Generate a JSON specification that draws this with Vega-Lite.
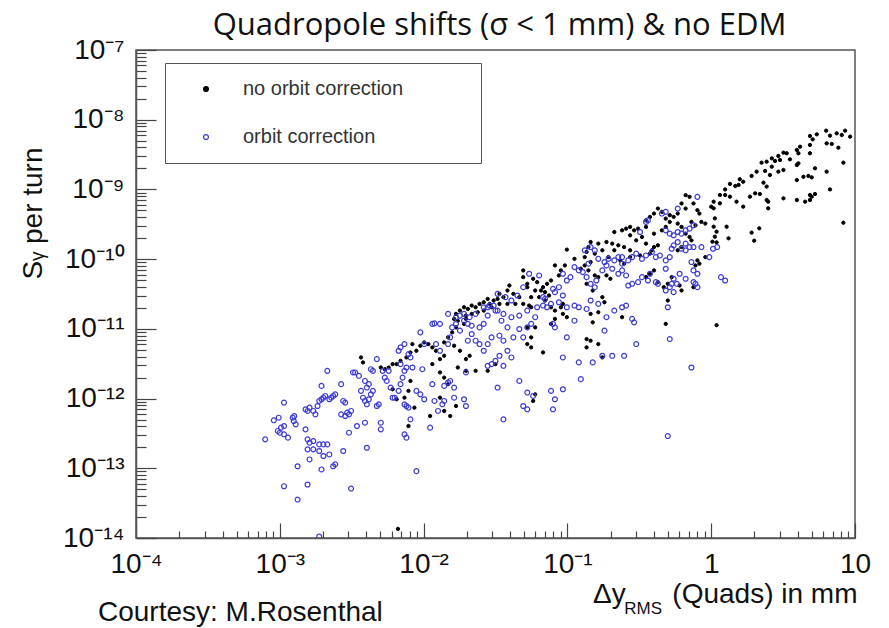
{
"$schema": "https://vega.github.io/schema/vega-lite/v6.json",
"width": 719, "height": 488,
"autosize": "none",
"padding": {"left": 136, "top": 50, "right": 34, "bottom": 90},
"background": "white",
"title": {"text": "Quadropole shifts (σ < 1 mm) & no EDM", "font": "Open Sans", "fontSize": 31, "fontWeight": "normal", "color": "#111", "anchor": "middle", "frame": "group", "offset": -6, "dx": 4},
"datasets": {
"noCorrection": [
{"x":4.86,"y":5.84e-9},{"x":5.08,"y":5.23e-9},{"x":5.42,"y":6.17e-9},{"x":6.3,"y":6.97e-9},{"x":6.7,"y":5.91e-9},{"x":7.46,"y":6.38e-9},{"x":8.09,"y":6.04e-9},{"x":8.53,"y":6.97e-9},{"x":9.25,"y":5.72e-9},{"x":6.89,"y":4.49e-9},{"x":6.35,"y":4.58e-9},{"x":7.66,"y":3.97e-9},{"x":4.86,"y":4.34e-9},{"x":4.15,"y":4.1e-9},{"x":3.94,"y":3.68e-9},{"x":4.04,"y":3.3e-9},{"x":3.35,"y":3.3e-9},{"x":3.18,"y":3.37e-9},{"x":2.93,"y":3.02e-9},{"x":2.64,"y":2.79e-9},{"x":2.43,"y":2.5e-9},{"x":2.24,"y":2.42e-9},{"x":2.78,"y":2.56e-9},{"x":3.01,"y":2.64e-9},{"x":3.53,"y":2.7e-9},{"x":4.04,"y":2.37e-9},{"x":3.94,"y":2.24e-9},{"x":8.3,"y":2.42e-9},{"x":4.86,"y":3.3e-9},{"x":5.27,"y":2.01e-9},{"x":6.35,"y":1.8e-9},{"x":4.74,"y":1.56e-9},{"x":5.0,"y":1.49e-9},{"x":4.38,"y":1.52e-9},{"x":3.94,"y":1.36e-9},{"x":3.18,"y":1.9e-9},{"x":2.93,"y":1.8e-9},{"x":2.64,"y":2.12e-9},{"x":2.37,"y":1.84e-9},{"x":2.07,"y":1.8e-9},{"x":1.91,"y":1.56e-9},{"x":2.56,"y":1.61e-9},{"x":2.31,"y":1.25e-9},{"x":2.43,"y":1.1e-9},{"x":1.67,"y":1.29e-9},{"x":1.58,"y":1.4e-9},{"x":1.55,"y":1.16e-9},{"x":1.47,"y":1.12e-9},{"x":1.35,"y":1.2e-9},{"x":1.25,"y":1.0e-9},{"x":1.15,"y":8.31e-10},{"x":1.25,"y":8.31e-10},{"x":1.35,"y":7.87e-10},{"x":1.5,"y":6.67e-10},{"x":1.67,"y":5.66e-10},{"x":1.86,"y":7.87e-10},{"x":2.02,"y":8.79e-10},{"x":2.18,"y":8.59e-10},{"x":2.43,"y":7.05e-10},{"x":2.49,"y":6.67e-10},{"x":2.49,"y":5.36e-10},{"x":3.18,"y":7.45e-10},{"x":3.94,"y":7.05e-10},{"x":4.5,"y":6.67e-10},{"x":4.86,"y":8.31e-10},{"x":5.0,"y":7.87e-10},{"x":5.27,"y":8.59e-10},{"x":4.86,"y":7.05e-10},{"x":6.7,"y":1.0e-9},{"x":1.04,"y":6.67e-10},{"x":1.04,"y":5.36e-10},{"x":1.15,"y":6.32e-10},{"x":1.0,"y":5.66e-10},{"x":8.3,"y":3.33e-10},{"x":1.91,"y":2.4e-10},{"x":2.16,"y":2.77e-10},{"x":1.99,"y":1.84e-10},{"x":1.32,"y":1.99e-10},{"x":1.28,"y":2.92e-10},{"x":1.06,"y":3.85e-10},{"x":1.04,"y":2.92e-10},{"x":1.09,"y":2.48e-10},{"x":1.06,"y":2.1e-10},{"x":1.02,"y":1.78e-10},{"x":1.09,"y":1.74e-10},{"x":1.09,"y":1.13e-11},
{"x":0.664,"y":8.28e-10},{"x":0.707,"y":7.83e-10},{"x":0.622,"y":6.29e-10},{"x":0.664,"y":5.32e-10},{"x":0.753,"y":6.29e-10},{"x":0.802,"y":5.04e-10},{"x":0.828,"y":4.51e-10},{"x":0.585,"y":4.51e-10},{"x":0.548,"y":4.04e-10},{"x":0.515,"y":4.27e-10},{"x":0.483,"y":3.82e-10},{"x":0.454,"y":4.77e-10},{"x":0.426,"y":5.32e-10},{"x":0.4,"y":4.51e-10},{"x":0.375,"y":4.04e-10},{"x":0.352,"y":3.61e-10},{"x":0.515,"y":3.42e-10},{"x":0.585,"y":3.24e-10},{"x":0.622,"y":2.9e-10},{"x":0.729,"y":3.42e-10},{"x":0.777,"y":3.06e-10},{"x":0.855,"y":3.42e-10},{"x":0.91,"y":3.24e-10},{"x":0.664,"y":2.32e-10},{"x":0.707,"y":2.08e-10},{"x":0.729,"y":1.86e-10},{"x":0.622,"y":1.49e-10},{"x":0.585,"y":1.34e-10},{"x":0.483,"y":2.9e-10},{"x":0.454,"y":2.59e-10},{"x":0.4,"y":2.32e-10},{"x":0.352,"y":2.9e-10},{"x":0.31,"y":2.74e-10},{"x":0.291,"y":2.59e-10},{"x":0.273,"y":2.9e-10},{"x":0.256,"y":2.74e-10},{"x":0.24,"y":2.59e-10},{"x":0.212,"y":2.45e-10},{"x":0.273,"y":2.2e-10},{"x":0.301,"y":1.86e-10},{"x":0.33,"y":2.08e-10},{"x":0.352,"y":1.67e-10},{"x":0.4,"y":1.49e-10},{"x":0.426,"y":1.58e-10},{"x":0.387,"y":1.34e-10},{"x":0.375,"y":1.2e-10},{"x":0.32,"y":1.13e-10},{"x":0.273,"y":1.34e-10},{"x":0.248,"y":1.49e-10},{"x":0.226,"y":1.58e-10},{"x":0.205,"y":1.67e-10},{"x":0.187,"y":1.76e-10},{"x":0.164,"y":1.67e-10},{"x":0.145,"y":1.76e-10},{"x":0.14,"y":1.49e-10},{"x":0.136,"y":1.27e-10},{"x":0.155,"y":1.2e-10},{"x":0.175,"y":1.34e-10},{"x":0.193,"y":1.07e-10},{"x":0.212,"y":1.34e-10},{"x":0.233,"y":9.6e-11},{"x":0.248,"y":8.6e-11},{"x":0.273,"y":1.07e-10},{"x":0.0991,"y":1.37e-10},{"x":0.112,"y":1.01e-10},{"x":0.132,"y":1.07e-10},{"x":0.145,"y":9.08e-11},{"x":0.132,"y":8.13e-11},{"x":0.124,"y":7.28e-11},{"x":0.14,"y":6.89e-11},{"x":0.155,"y":5.84e-11},{"x":0.164,"y":5.52e-11},{"x":0.187,"y":5.84e-11},{"x":0.199,"y":5.23e-11},{"x":0.136,"y":4.43e-11},{"x":0.15,"y":3.55e-11},{"x":0.175,"y":2.85e-11},{"x":0.181,"y":2.41e-11},{"x":0.0819,"y":8.13e-11},{"x":0.0901,"y":6.89e-11},{"x":0.096,"y":8.13e-11},{"x":0.0873,"y":5.84e-11},{"x":0.0769,"y":4.94e-11},{"x":0.0722,"y":4.43e-11},{"x":0.0677,"y":3.96e-11},{"x":0.0656,"y":3.55e-11},{"x":0.0699,"y":3.36e-11},{"x":0.0745,"y":3.01e-11},{"x":0.0616,"y":4.68e-11},{"x":0.0578,"y":5.23e-11},{"x":0.0526,"y":4.43e-11},{"x":0.0493,"y":6.89e-11},{"x":0.0493,"y":5.52e-11},{"x":0.0526,"y":3.96e-11},{"x":0.056,"y":2.85e-11},{"x":0.0597,"y":3.55e-11},{"x":0.0636,"y":2.85e-11},{"x":0.0699,"y":2.55e-11},{"x":0.0769,"y":2.04e-11},{"x":0.0819,"y":1.83e-11},{"x":0.0901,"y":2.04e-11},{"x":0.093,"y":2.28e-11},{"x":0.0463,"y":2.85e-11},{"x":0.0421,"y":3.18e-11},{"x":0.0395,"y":4.19e-11},{"x":0.0383,"y":3.55e-11},{"x":0.0359,"y":2.85e-11},{"x":0.0337,"y":3.18e-11},{"x":0.0327,"y":2.69e-11},{"x":0.0307,"y":2.55e-11},{"x":0.0288,"y":2.28e-11},{"x":0.0279,"y":2.69e-11},{"x":0.0262,"y":2.41e-11},{"x":0.0245,"y":2.28e-11},{"x":0.023,"y":2.04e-11},{"x":0.0216,"y":2.16e-11},{"x":0.0203,"y":1.93e-11},{"x":0.0191,"y":2.04e-11},{"x":0.0179,"y":1.83e-11},{"x":0.0168,"y":1.64e-11},{"x":0.0163,"y":1.39e-11},{"x":0.0173,"y":1.31e-11},{"x":0.0197,"y":1.55e-11},{"x":0.0216,"y":1.64e-11},{"x":0.0238,"y":1.73e-11},{"x":0.0262,"y":1.83e-11},{"x":0.0297,"y":2.04e-11},{"x":0.0337,"y":2.28e-11},{"x":0.0383,"y":2.28e-11},{"x":0.0435,"y":2.28e-11},{"x":0.0493,"y":2.28e-11},{"x":0.0542,"y":2.16e-11},{"x":0.056,"y":2.04e-11},{"x":0.531,"y":5.52e-11},{"x":0.468,"y":3.96e-11},{"x":0.426,"y":4.68e-11},{"x":0.499,"y":4.43e-11},{"x":0.603,"y":4.19e-11},{"x":0.622,"y":3.55e-11},{"x":0.753,"y":3.96e-11},{"x":0.91,"y":1.07e-10},{"x":0.802,"y":9.6e-11},{"x":0.777,"y":8.13e-11},{"x":0.828,"y":8.6e-11},{"x":0.352,"y":5.52e-11},{"x":0.375,"y":6.17e-11},{"x":0.4,"y":6.89e-11},{"x":0.0769,"y":1.18e-11},{"x":0.0819,"y":1.39e-11},{"x":0.093,"y":1.64e-11},{"x":0.0991,"y":1.47e-11},{"x":0.164,"y":1.73e-11},{"x":0.145,"y":1.64e-11},{"x":0.15,"y":1.24e-11},{"x":0.24,"y":1.47e-11},{"x":0.483,"y":1.18e-11},{"x":0.136,"y":7.14e-12},{"x":0.145,"y":6.76e-12},{"x":0.136,"y":5.42e-12},{"x":0.164,"y":6.05e-12},{"x":0.175,"y":3.89e-12},{"x":0.0597,"y":1.05e-11},{"x":0.0677,"y":4.59e-12},{"x":0.056,"y":7.55e-12},{"x":0.0526,"y":6.05e-12},{"x":0.056,"y":5.42e-12},{"x":0.0526,"y":1.05e-11},{"x":0.0197,"y":1.39e-11},{"x":0.0191,"y":1.18e-11},{"x":0.0168,"y":1.05e-11},{"x":0.0158,"y":8.91e-12},{"x":0.0148,"y":7.55e-12},{"x":0.0139,"y":6.4e-12},{"x":0.0163,"y":5.73e-12},{"x":0.0179,"y":4.85e-12},{"x":0.0209,"y":4.11e-12},{"x":0.0197,"y":3.68e-12},{"x":0.0173,"y":2.79e-12},{"x":0.0197,"y":2.5e-12},{"x":0.023,"y":2.5e-12},{"x":0.0279,"y":2.5e-12},{"x":0.0316,"y":3.12e-12},{"x":0.013,"y":3.68e-12},{"x":0.0139,"y":4.11e-12},{"x":0.0122,"y":4.85e-12},{"x":0.0115,"y":5.42e-12},{"x":0.0108,"y":6.05e-12},{"x":0.0101,"y":6.4e-12},{"x":0.00949,"y":5.73e-12},{"x":0.00836,"y":6.05e-12},{"x":0.00891,"y":4.85e-12},{"x":0.0081,"y":4.59e-12},{"x":0.0076,"y":3.89e-12},{"x":0.00691,"y":3.48e-12},{"x":0.00649,"y":3.12e-12},{"x":0.00609,"y":3.12e-12},{"x":0.00572,"y":2.79e-12},{"x":0.00537,"y":2.64e-12},{"x":0.00504,"y":2.79e-12},{"x":0.00367,"y":3.89e-12},{"x":0.00379,"y":3.3e-12},{"x":0.0115,"y":3.12e-12},{"x":0.013,"y":2.37e-12},{"x":0.0139,"y":2.0e-12},{"x":0.0148,"y":1.61e-12},{"x":0.013,"y":1.03e-12},{"x":0.0139,"y":6.64e-13},{"x":0.0153,"y":5.62e-13},{"x":0.0168,"y":7.83e-13},{"x":0.0111,"y":5.62e-13},{"x":0.00785,"y":4.04e-13},{"x":0.0081,"y":1.79e-12},{"x":0.00785,"y":1.29e-12},{"x":0.00736,"y":1.03e-12},{"x":0.00649,"y":9.77e-13},{"x":0.00609,"y":1.36e-12},{"x":0.00863,"y":7.41e-13},{"x":0.0578,"y":9.25e-13},{"x":0.0597,"y":1.15e-12},{"x":0.499,"y":2.55e-11},{"x":0.00663,"y":1.35e-14}
],
"orbitCorrection": [
{"x":7.91e-4,"y":2.6e-13},{"x":9.09e-4,"y":4.88e-13},{"x":9.82e-4,"y":5.32e-13},{"x":1.02e-3,"y":3.83e-13},{"x":1.0e-3,"y":3.24e-13},{"x":1.07e-3,"y":3.07e-13},{"x":1.14e-3,"y":2.75e-13},{"x":1.07e-3,"y":8.75e-13},{"x":1.23e-3,"y":5.32e-13},{"x":1.26e-3,"y":5.62e-13},{"x":1.29e-3,"y":4.27e-13},{"x":1.51e-3,"y":7.02e-13},{"x":1.56e-3,"y":6.64e-13},{"x":1.61e-3,"y":7.41e-13},{"x":1.71e-3,"y":6.64e-13},{"x":1.77e-3,"y":5.94e-13},{"x":1.83e-3,"y":7.83e-13},{"x":1.88e-3,"y":9.25e-13},{"x":1.95e-3,"y":9.77e-13},{"x":2.01e-3,"y":1.03e-12},{"x":1.95e-3,"y":1.52e-12},{"x":2.14e-3,"y":2.5e-12},{"x":2.07e-3,"y":1.09e-12},{"x":2.21e-3,"y":9.77e-13},{"x":2.28e-3,"y":1.03e-12},{"x":2.35e-3,"y":1.09e-12},{"x":2.43e-3,"y":1.15e-12},{"x":2.67e-3,"y":1.61e-12},{"x":2.76e-3,"y":9.25e-13},{"x":2.85e-3,"y":8.75e-13},{"x":2.67e-3,"y":5.94e-13},{"x":2.85e-3,"y":5.62e-13},{"x":2.94e-3,"y":6.28e-13},{"x":3.03e-3,"y":5.94e-13},{"x":3.13e-3,"y":6.64e-13},{"x":3.23e-3,"y":2.37e-12},{"x":3.34e-3,"y":2.37e-12},{"x":3.55e-3,"y":2.12e-12},{"x":3.67e-3,"y":1.29e-12},{"x":3.79e-3,"y":1.03e-12},{"x":3.91e-3,"y":9.25e-13},{"x":4.03e-3,"y":8.28e-13},{"x":4.16e-3,"y":9.77e-13},{"x":4.3e-3,"y":1.15e-12},{"x":4.44e-3,"y":1.29e-12},{"x":4.73e-3,"y":7.83e-13},{"x":4.88e-3,"y":8.28e-13},{"x":3.91e-3,"y":1.79e-12},{"x":4.03e-3,"y":1.44e-12},{"x":4.16e-3,"y":1.61e-12},{"x":4.3e-3,"y":2.64e-12},{"x":4.44e-3,"y":2.5e-12},{"x":4.73e-3,"y":3.68e-12},{"x":5.19e-3,"y":2.5e-12},{"x":5.37e-3,"y":2.0e-12},{"x":5.54e-3,"y":1.79e-12},{"x":5.72e-3,"y":2.5e-12},{"x":5.9e-3,"y":1.44e-12},{"x":6.09e-3,"y":1.03e-12},{"x":6.29e-3,"y":1.03e-12},{"x":6.7e-3,"y":1.29e-12},{"x":6.91e-3,"y":1.61e-12},{"x":7.14e-3,"y":2.0e-12},{"x":7.36e-3,"y":2.5e-12},{"x":7.6e-3,"y":2.79e-12},{"x":6.91e-3,"y":3.12e-12},{"x":6.7e-3,"y":4.85e-12},{"x":6.91e-3,"y":5.42e-12},{"x":7.36e-3,"y":6.05e-12},{"x":7.85e-3,"y":4.35e-12},{"x":8.1e-3,"y":3.89e-12},{"x":8.36e-3,"y":2.79e-12},{"x":7.36e-3,"y":8.28e-13},{"x":7.6e-3,"y":7.83e-13},{"x":7.85e-3,"y":7.41e-13},{"x":8.91e-3,"y":1.29e-12},{"x":9.49e-3,"y":1.15e-12},{"x":9.8e-3,"y":2.64e-12},{"x":1.01e-2,"y":9.77e-13},{"x":1.15e-2,"y":1.61e-12},{"x":1.19e-2,"y":9.25e-13},{"x":1.11e-2,"y":3.83e-13},{"x":1.26e-2,"y":6.64e-13},{"x":1.35e-2,"y":8.28e-13},{"x":1.39e-2,"y":9.25e-13},{"x":1.39e-2,"y":1.52e-12},{"x":1.48e-2,"y":1.7e-12},{"x":1.53e-2,"y":1.79e-12},{"x":1.63e-2,"y":1.44e-12},{"x":1.63e-2,"y":1.03e-12},{"x":1.91e-2,"y":9.77e-13},{"x":1.97e-2,"y":7.83e-13},{"x":1.15e-2,"y":1.18e-11},{"x":9.49e-3,"y":8.91e-12},{"x":1.01e-2,"y":6.05e-12},{"x":1.22e-2,"y":6.05e-12},{"x":1.3e-2,"y":4.85e-12},{"x":1.48e-2,"y":6.05e-12},{"x":1.53e-2,"y":7.55e-12},{"x":1.58e-2,"y":1.05e-11},{"x":1.68e-2,"y":1.18e-11},{"x":1.79e-2,"y":9.42e-12},{"x":2.03e-2,"y":6.76e-12},{"x":2.16e-2,"y":8.43e-12},{"x":2.3e-2,"y":6.76e-12},{"x":2.45e-2,"y":6.05e-12},{"x":2.62e-2,"y":4.85e-12},{"x":2.79e-2,"y":6.05e-12},{"x":2.97e-2,"y":7.55e-12},{"x":3.37e-2,"y":7.98e-12},{"x":3.59e-2,"y":6.76e-12},{"x":3.83e-2,"y":4.85e-12},{"x":4.08e-2,"y":3.89e-12},{"x":4.21e-2,"y":7.55e-12},{"x":4.63e-2,"y":9.96e-12},{"x":4.93e-2,"y":7.55e-12},{"x":5.26e-2,"y":1.05e-11},{"x":5.6e-2,"y":1.18e-11},{"x":5.97e-2,"y":1.47e-11},{"x":6.16e-2,"y":2.04e-11},{"x":5.26e-2,"y":1.83e-11},{"x":4.63e-2,"y":1.55e-11},{"x":4.08e-2,"y":1.47e-11},{"x":3.59e-2,"y":1.64e-11},{"x":3.16e-2,"y":1.83e-11},{"x":2.79e-2,"y":1.55e-11},{"x":2.62e-2,"y":1.18e-11},{"x":2.45e-2,"y":1.05e-11},{"x":2.16e-2,"y":1.11e-11},{"x":2.03e-2,"y":1.18e-11},{"x":1.91e-2,"y":1.31e-11},{"x":1.79e-2,"y":1.55e-11},{"x":2.79e-2,"y":2.04e-11},{"x":3.07e-2,"y":2.16e-11},{"x":3.27e-2,"y":1.83e-11},{"x":3.48e-2,"y":1.31e-11},{"x":3.83e-2,"y":1.05e-11},{"x":3.16e-2,"y":3.48e-12},{"x":3.37e-2,"y":4.11e-12},{"x":3.59e-2,"y":2.95e-12},{"x":1.97e-2,"y":2.37e-12},{"x":2.79e-2,"y":2.95e-12},{"x":2.97e-2,"y":3.12e-12},{"x":3.27e-2,"y":1.44e-12},{"x":3.59e-2,"y":5.04e-13},{"x":4.63e-2,"y":1.79e-12},{"x":4.93e-2,"y":7.83e-13},{"x":5.26e-2,"y":1.22e-12},{"x":5.26e-2,"y":7.02e-13},{"x":5.78e-2,"y":1.09e-12},{"x":7.69e-2,"y":1.29e-12},{"x":7.94e-2,"y":7.02e-13},{"x":8.19e-2,"y":9.77e-13},{"x":9.3e-2,"y":1.36e-12},{"x":0.124,"y":1.9e-12},{"x":9.3e-2,"y":3.89e-12},{"x":9.91e-2,"y":7.55e-12},{"x":0.12,"y":3.3e-12},{"x":0.15,"y":3.3e-12},{"x":0.175,"y":4.11e-12},{"x":0.205,"y":4.11e-12},{"x":0.248,"y":4.11e-12},{"x":0.301,"y":6.05e-12},{"x":0.181,"y":9.42e-12},{"x":0.187,"y":1.47e-11},{"x":0.212,"y":1.83e-11},{"x":0.24,"y":2.04e-11},{"x":0.256,"y":2.16e-11},{"x":0.282,"y":1.39e-11},{"x":0.291,"y":1.24e-11},{"x":0.164,"y":2.28e-11},{"x":0.145,"y":2.55e-11},{"x":0.136,"y":1.93e-11},{"x":0.12,"y":2.04e-11},{"x":0.112,"y":1.31e-11},{"x":0.112,"y":2.16e-11},{"x":9.91e-2,"y":2.04e-11},{"x":9.3e-2,"y":3.01e-11},{"x":8.73e-2,"y":2.41e-11},{"x":7.69e-2,"y":2.28e-11},{"x":7.22e-2,"y":2.04e-11},{"x":6.77e-2,"y":2.16e-11},{"x":6.99e-2,"y":2.69e-11},{"x":8.19e-2,"y":3.36e-11},{"x":7.94e-2,"y":3.75e-11},{"x":8.73e-2,"y":3.96e-11},{"x":9.91e-2,"y":4.94e-11},{"x":0.105,"y":5.52e-11},{"x":9.3e-2,"y":6.17e-11},{"x":0.112,"y":7.69e-11},{"x":0.12,"y":6.89e-11},{"x":0.128,"y":6.52e-11},{"x":0.136,"y":5.52e-11},{"x":0.145,"y":4.43e-11},{"x":0.155,"y":3.96e-11},{"x":0.159,"y":4.94e-11},{"x":0.175,"y":6.89e-11},{"x":0.187,"y":8.13e-11},{"x":0.205,"y":7.28e-11},{"x":0.226,"y":6.17e-11},{"x":0.24,"y":6.89e-11},{"x":0.256,"y":5.84e-11},{"x":0.265,"y":4.19e-11},{"x":0.282,"y":4.43e-11},{"x":0.31,"y":4.68e-11},{"x":0.33,"y":5.52e-11},{"x":0.363,"y":4.94e-11},{"x":0.375,"y":6.17e-11},{"x":0.412,"y":4.68e-11},{"x":0.426,"y":4.43e-11},{"x":0.483,"y":3.55e-11},{"x":0.499,"y":2.04e-11},{"x":0.515,"y":3.96e-11},{"x":0.548,"y":5.23e-11},{"x":0.603,"y":6.17e-11},{"x":0.664,"y":5.23e-11},{"x":0.729,"y":9.08e-11},{"x":0.753,"y":6.89e-11},{"x":0.802,"y":6.17e-11},{"x":0.777,"y":4.43e-11},{"x":0.802,"y":3.96e-11},{"x":0.97,"y":1.07e-10},{"x":1.1,"y":1.49e-10},{"x":1.03,"y":1.41e-10},{"x":1.17,"y":5.52e-11},{"x":1.25,"y":4.94e-11},{"x":0.855,"y":1.49e-10},{"x":0.753,"y":1.49e-10},{"x":0.707,"y":1.49e-10},{"x":0.664,"y":1.67e-10},{"x":0.622,"y":1.41e-10},{"x":0.585,"y":1.76e-10},{"x":0.548,"y":1.58e-10},{"x":0.531,"y":1.41e-10},{"x":0.515,"y":1.07e-10},{"x":0.483,"y":9.6e-11},{"x":0.44,"y":1.13e-10},{"x":0.412,"y":1.07e-10},{"x":0.387,"y":1.27e-10},{"x":0.352,"y":1.13e-10},{"x":0.33,"y":1.01e-10},{"x":0.301,"y":1.2e-10},{"x":0.282,"y":1.07e-10},{"x":0.265,"y":9.6e-11},{"x":0.24,"y":8.6e-11},{"x":0.212,"y":9.6e-11},{"x":0.193,"y":1.01e-10},{"x":0.181,"y":9.08e-11},{"x":0.164,"y":1.01e-10},{"x":0.155,"y":1.34e-10},{"x":0.145,"y":1.49e-10},{"x":0.14,"y":8.6e-11},{"x":0.132,"y":1.34e-10},{"x":0.483,"y":2.59e-10},{"x":0.515,"y":2.32e-10},{"x":0.548,"y":2.2e-10},{"x":0.585,"y":2.45e-10},{"x":0.622,"y":2.32e-10},{"x":0.664,"y":2.59e-10},{"x":0.707,"y":2.74e-10},{"x":0.753,"y":3.06e-10},{"x":0.802,"y":7.83e-10},{"x":0.585,"y":5.32e-10},{"x":0.483,"y":4.77e-10},{"x":0.454,"y":4.51e-10},{"x":0.363,"y":3.61e-10},{"x":0.352,"y":3.42e-10},{"x":0.32,"y":2.45e-10},{"x":0.24,"y":1.07e-10},{"x":0.226,"y":1.07e-10},{"x":0.483,"y":7.28e-11},{"x":0.531,"y":4.43e-11},{"x":0.577,"y":4.43e-11},{"x":0.548,"y":3.36e-11},{"x":0.729,"y":2.79e-12},{"x":0.499,"y":2.9e-13},{"x":0.515,"y":7.14e-12},{"x":0.753,"y":4.68e-11},{"x":0.664,"y":1.34e-10},{"x":7.94e-2,"y":1.18e-11},{"x":8.19e-2,"y":1.05e-11},{"x":6.77e-2,"y":2.85e-11},{"x":6.36e-2,"y":5.84e-11},{"x":5.42e-2,"y":6.17e-11},{"x":4.93e-2,"y":3.96e-11},{"x":4.49e-2,"y":3.01e-11},{"x":4.08e-2,"y":2.55e-11},{"x":3.71e-2,"y":2.85e-11},{"x":3.27e-2,"y":3.18e-11},{"x":2.88e-2,"y":2.16e-11},{"x":2.62e-2,"y":2.04e-11},{"x":2.3e-2,"y":1.64e-11},{"x":2.09e-2,"y":1.47e-11},{"x":1.91e-2,"y":1.64e-11},{"x":1.68e-2,"y":1.47e-11},{"x":1.48e-2,"y":1.64e-11},{"x":1.3e-2,"y":1.18e-11},{"x":1.19e-2,"y":1.2e-11},
{"x":1.51e-3,"y":3.62e-13},{"x":1.56e-3,"y":2.6e-13},{"x":1.61e-3,"y":2.33e-13},{"x":1.71e-3,"y":2.46e-13},{"x":1.88e-3,"y":2.2e-13},{"x":2.01e-3,"y":2.2e-13},{"x":2.14e-3,"y":2.2e-13},{"x":1.56e-3,"y":1.87e-13},{"x":1.71e-3,"y":1.87e-13},{"x":1.88e-3,"y":1.77e-13},{"x":2.01e-3,"y":1.5e-13},{"x":2.21e-3,"y":1.58e-13},{"x":1.61e-3,"y":1.34e-13},{"x":1.33e-3,"y":1.07e-13},{"x":1.95e-3,"y":9.62e-14},{"x":2.35e-3,"y":1.07e-13},{"x":2.43e-3,"y":1.14e-13},{"x":2.76e-3,"y":1.77e-13},{"x":4.03e-3,"y":1.97e-13},{"x":3.03e-3,"y":3.24e-13},{"x":3.44e-3,"y":4.04e-13},{"x":3.91e-3,"y":4.51e-13},{"x":5.04e-3,"y":4.51e-13},{"x":5.04e-3,"y":3.62e-13},{"x":7.36e-3,"y":3.07e-13},{"x":7.6e-3,"y":2.75e-13},{"x":8.1e-3,"y":5.04e-13},{"x":8.91e-3,"y":9.1e-14},{"x":1.07e-3,"y":5.53e-14},{"x":1.56e-3,"y":5.85e-14},{"x":1.33e-3,"y":3.56e-14},{"x":3.13e-3,"y":5.12e-14},{"x":1.88e-3,"y":1.05e-14},{"x":1.07e-3,"y":4.04e-13},{"x":1.25e-3,"y":4.77e-13},{"x":9.69e-4,"y":3.43e-13}
]
},
"layer": [
{
"data": {"name": "noCorrection"},
"mark": {"type": "point", "shape": "circle", "size": 11, "strokeWidth": 1, "opacity": 1, "clip": true},
"encoding": {
"x": {"field": "x", "type": "quantitative", "scale": {"type": "log", "domain": [0.0001, 10], "nice": false},
"axis": {"values": [0.0001,0.0002,0.0003,0.0004,0.0005,0.0006,0.0007,0.0008,0.0009,0.001,0.002,0.003,0.004,0.005,0.006,0.007,0.008,0.009,0.01,0.02,0.03,0.04,0.05,0.06,0.07,0.08,0.09,0.1,0.2,0.3,0.4,0.5,0.6,0.7,0.8,0.9,1,2,3,4,5,6,7,8,9,10],
"labelExpr": "abs(datum.value / pow(10, round(log(datum.value) / LN10)) - 1) > 0.001 ? '' : ['10⁻⁴','10⁻³','10⁻²','10⁻¹','1','10'][round(log(datum.value) / LN10) + 4]",
"labelOverlap": false, "labelFlush": false, "labelBound": false, "grid": false, "zindex": 1,
"ticks": true,
"tickSize": {"condition": {"test": "abs(datum.value / pow(10, round(log(datum.value) / LN10)) - 1) < 0.001", "value": -15}, "value": -7},
"tickColor": "#444", "tickWidth": 1.2, "domainColor": "#555", "domainWidth": 1.5,
"labelFont": "Liberation Sans", "labelFontSize": 28, "labelColor": "#111", "labelPadding": 27, "labelBaseline": "top",
"title": "Δy\u00a0\u00a0\u00a0\u00a0\u00a0\u00a0(Quads) in mm", "titleFont": "Liberation Sans", "titleFontSize": 28, "titleFontWeight": "normal", "titleColor": "#111",
"titleAnchor": "end", "titleAlign": "right", "titleX": 721, "titleY": 64, "titleBaseline": "alphabetic"}},
"y": {"field": "y", "type": "quantitative", "scale": {"type": "log", "domain": [1e-14, 1e-7], "nice": false},
"axis": {"values": [1e-14,2e-14,3e-14,4e-14,5e-14,6e-14,7e-14,8e-14,9e-14,1e-13,2e-13,3e-13,4e-13,5e-13,6e-13,7e-13,8e-13,9e-13,1e-12,2e-12,3e-12,4e-12,5e-12,6e-12,7e-12,8e-12,9e-12,1e-11,2e-11,3e-11,4e-11,5e-11,6e-11,7e-11,8e-11,9e-11,1e-10,2e-10,3e-10,4e-10,5e-10,6e-10,7e-10,8e-10,9e-10,1e-9,2e-9,3e-9,4e-9,5e-9,6e-9,7e-9,8e-9,9e-9,1e-8,2e-8,3e-8,4e-8,5e-8,6e-8,7e-8,8e-8,9e-8,1e-7],
"labelExpr": "abs(datum.value / pow(10, round(log(datum.value) / LN10)) - 1) > 0.001 ? '' : ['10⁻¹⁴','10⁻¹³','10⁻¹²','10⁻¹¹','10⁻¹⁰','10⁻⁹','10⁻⁸','10⁻⁷'][round(log(datum.value) / LN10) + 14]",
"labelOverlap": false, "labelFlush": false, "labelBound": false, "grid": false, "zindex": 1,
"ticks": true,
"tickSize": {"condition": {"test": "abs(datum.value / pow(10, round(log(datum.value) / LN10)) - 1) < 0.001", "value": -20}, "value": -10},
"tickColor": "#444", "tickWidth": 1.2, "domainColor": "#555", "domainWidth": 1.5,
"labelFont": "Liberation Sans", "labelFontSize": 28, "labelColor": "#111", "labelPadding": 32, "labelAlign": "right", "labelBaseline": "middle",
"title": "Sᵧ per turn", "titleFont": "Liberation Sans", "titleFontSize": 28, "titleFontWeight": "normal", "titleColor": "#111",
"titleAngle": 270, "titleX": -103, "titleY": 163, "titleAlign": "center", "titleBaseline": "middle"}},
"fill": {"datum": "no orbit correction", "type": "nominal",
"scale": {"domain": ["no orbit correction", "orbit correction"], "range": ["#000000", "transparent"]},
"legend": {"title": null, "orient": "none", "legendX": 29, "legendY": 13, "fillColor": "white", "strokeColor": "#555", "padding": 16, "labelFont": "Liberation Sans", "labelFontSize": 20, "labelColor": "#333", "labelLimit": 500, "rowPadding": 28, "symbolSize": 24, "symbolStrokeWidth": 1.2, "symbolOffset": 15, "labelOffset": 27, "labelExpr": "datum.label + '\u00a0\u00a0\u00a0\u00a0\u00a0\u00a0\u00a0\u00a0\u00a0\u00a0\u00a0\u200b'"}},
"stroke": {"datum": "no orbit correction", "type": "nominal",
"scale": {"domain": ["no orbit correction", "orbit correction"], "range": ["#000000", "#3b3bd6"]},
"legend": {"title": null, "orient": "none", "legendX": 29, "legendY": 13, "fillColor": "white", "strokeColor": "#555", "padding": 16, "labelFont": "Liberation Sans", "labelFontSize": 20, "labelColor": "#333", "labelLimit": 500, "rowPadding": 28, "symbolSize": 24, "symbolStrokeWidth": 1.2, "symbolOffset": 15, "labelOffset": 27, "labelExpr": "datum.label + '\u00a0\u00a0\u00a0\u00a0\u00a0\u00a0\u00a0\u00a0\u00a0\u00a0\u00a0\u200b'"}}
}
},
{
"data": {"name": "orbitCorrection"},
"mark": {"type": "point", "shape": "circle", "size": 24, "strokeWidth": 1.2, "opacity": 1, "clip": true},
"encoding": {
"x": {"field": "x", "type": "quantitative", "scale": {"type": "log", "domain": [0.0001, 10], "nice": false}},
"y": {"field": "y", "type": "quantitative", "scale": {"type": "log", "domain": [1e-14, 1e-7], "nice": false}},
"fill": {"datum": "orbit correction", "type": "nominal"},
"stroke": {"datum": "orbit correction", "type": "nominal"}
}
},
{
"data": {"values": [{}]},
"mark": {"type": "text", "text": "Courtesy: M.Rosenthal", "font": "Liberation Sans", "fontSize": 28, "color": "#111", "align": "left", "baseline": "alphabetic", "dx": -38, "dy": 83, "clip": false},
"encoding": {
"x": {"datum": 0.0001, "type": "quantitative", "scale": {"type": "log", "domain": [0.0001, 10], "nice": false}},
"y": {"datum": 1e-14, "type": "quantitative", "scale": {"type": "log", "domain": [1e-14, 1e-7], "nice": false}}
}
},
{
"data": {"values": [{}]},
"mark": {"type": "text", "text": "RMS", "font": "Liberation Sans", "fontSize": 17, "color": "#111", "align": "left", "baseline": "alphabetic", "dx": -87, "dy": 76, "clip": false},
"encoding": {
"x": {"datum": 1, "type": "quantitative", "scale": {"type": "log", "domain": [0.0001, 10], "nice": false}},
"y": {"datum": 1e-14, "type": "quantitative", "scale": {"type": "log", "domain": [1e-14, 1e-7], "nice": false}}
}
}
],
"config": {"view": {"stroke": "#555", "strokeWidth": 1.5}, "axis": {"grid": false}, "font": "Liberation Sans"}
}
